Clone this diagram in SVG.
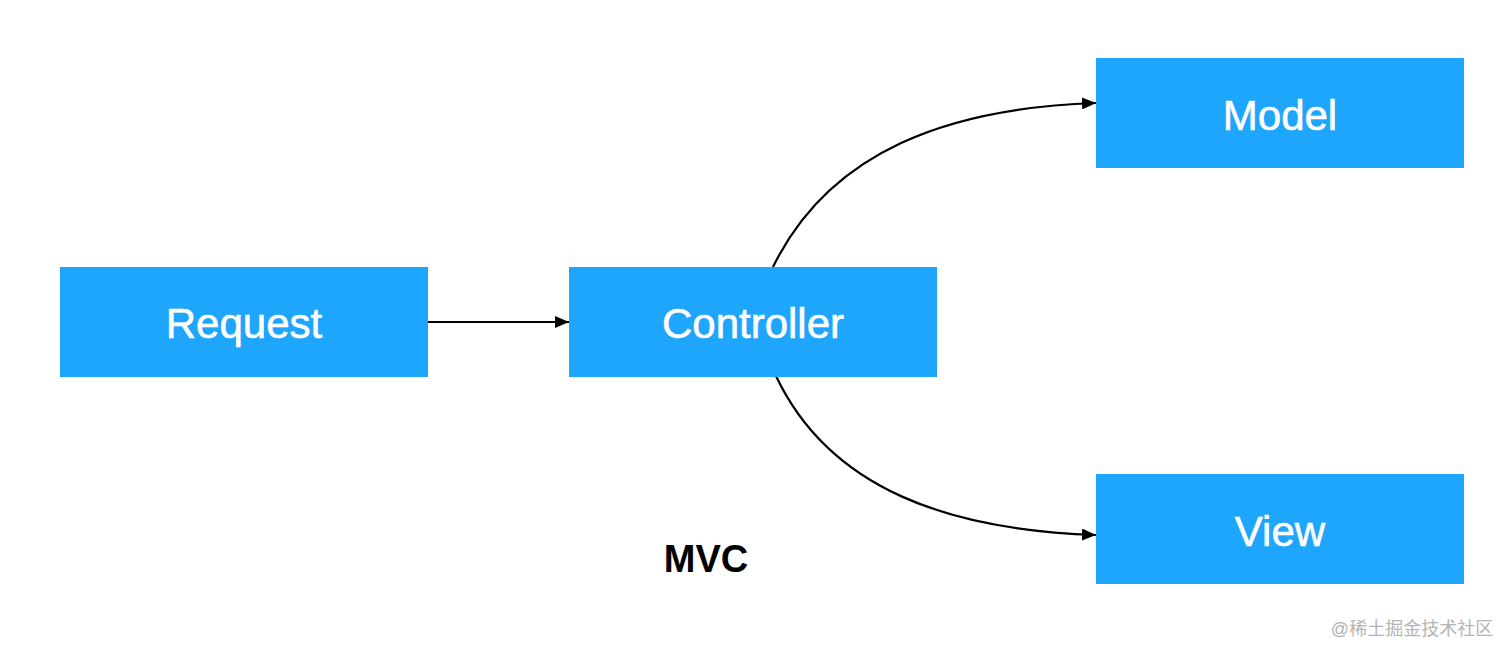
<svg xmlns="http://www.w3.org/2000/svg" width="1512" height="657" viewBox="0 0 1512 657">
<style>
.box{fill:#1ea5fc}
.lbl{font-family:"Helvetica Neue","Liberation Sans",Arial,sans-serif;font-size:42px;fill:#fff;stroke:#fff;stroke-width:0.6;text-anchor:middle}
.edge{fill:none;stroke:#000;stroke-width:2.2}
</style>
<defs>
<marker id="ah" markerWidth="14" markerHeight="12" refX="14" refY="6" orient="auto" markerUnits="userSpaceOnUse">
<path d="M0,0 L14,6 L0,12 Z" fill="#000"/>
</marker>
</defs>
<rect width="1512" height="657" fill="#fff"/>
<g id="connectors">
<path class="edge" d="M428,322 L569,322" marker-end="url(#ah)"/>
<path class="edge" d="M773,267 C830,150 950,108 1096,103" marker-end="url(#ah)"/>
<path class="edge" d="M776,376 C830,490 950,530 1096,535" marker-end="url(#ah)"/>
</g>
<g id="request"><rect class="box" x="60" y="267" width="368" height="110"/><text class="lbl" x="244" y="338">Request</text></g>
<g id="controller"><rect class="box" x="569" y="267" width="368" height="110"/><text class="lbl" x="753" y="338">Controller</text></g>
<g id="model"><rect class="box" x="1096" y="58" width="368" height="110"/><text class="lbl" x="1280" y="130">Model</text></g>
<g id="view"><rect class="box" x="1096" y="474" width="368" height="110"/><text class="lbl" x="1280" y="546">View</text></g>
<text x="706" y="572" font-family="'Helvetica Neue','Liberation Sans',Arial,sans-serif" font-size="38" font-weight="bold" text-anchor="middle" fill="#000">MVC</text>
<text x="1412" y="635" font-family="'Liberation Sans','Noto Sans CJK SC',sans-serif" font-size="18" text-anchor="middle" fill="#b4b4b4">@稀土掘金技术社区</text>
</svg>
